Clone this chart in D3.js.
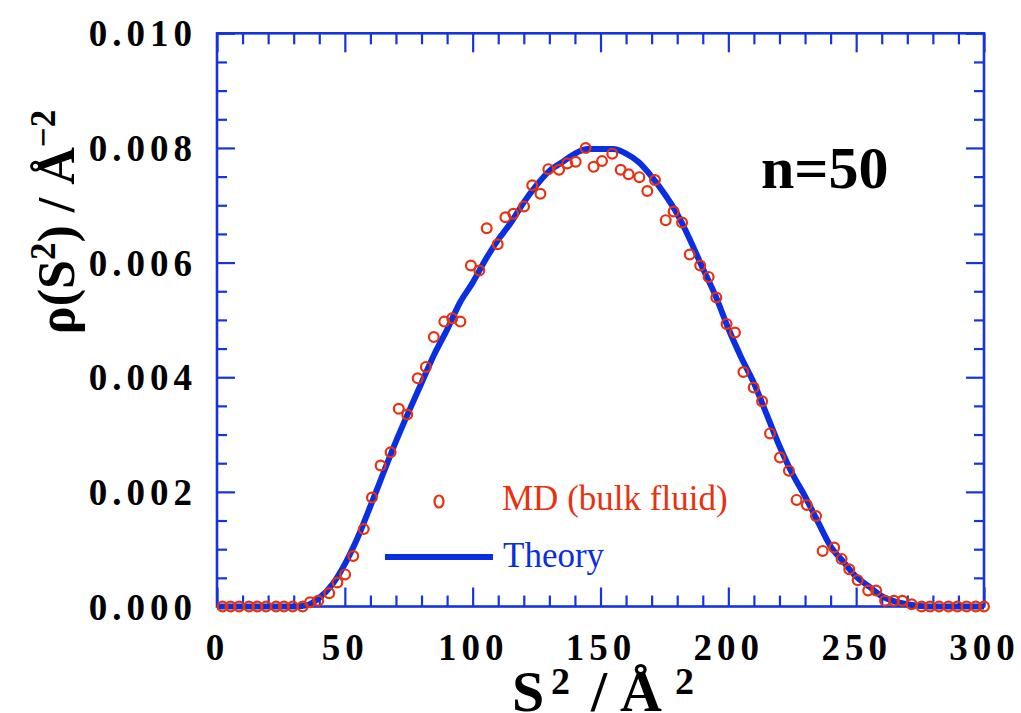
<!DOCTYPE html>
<html><head><meta charset="utf-8">
<script src="https://cdn.jsdelivr.net/npm/d3@7"></script>
<style>body{margin:0;background:#fff} svg{display:block}</style>
</head><body>
<svg id="chart" width="1021" height="713"></svg>
<script>
// ---- data ----
const mdX = [2.2,5.3,8.6,12.5,15.8,19.2,23.1,26.2,29.6,33.5,36.4,39.6,43.9,47.1,50.1,53.3,57.4,60.6,64.0,67.9,71.1,74.4,78.5,81.7,84.8,88.9,92.0,95.2,99.3,102.6,105.5,109.8,112.8,115.9,120.1,123.3,126.5,129.6,133.8,137.0,140.3,144.2,147.3,150.6,154.6,157.9,161.0,165.2,168.3,171.3,175.5,178.6,181.9,184.9,189.0,192.3,195.3,199.3,202.6,205.9,209.9,213.2,216.3,220.2,223.7,226.7,230.7,234.3,236.9,241.4,244.3,247.3,250.6,254.7,257.8,261.3,264.8,268.1,271.7,275.6,278.9,282.4,286.1,289.6,293.2,296.8,300.0];
const mdY = [0,0,0,0,0,0,0,0,0,0,0.000075,0.0001,0.00023,0.00042,0.00056,0.00088,0.00135,0.0019,0.00246,0.00269,0.00345,0.00335,0.00398,0.00418,0.0047,0.00497,0.00503,0.00497,0.00595,0.00586,0.0066,0.00632,0.00679,0.00685,0.00698,0.00735,0.0072,0.00763,0.00762,0.00773,0.00776,0.0080,0.00767,0.00777,0.0079,0.00762,0.00754,0.00749,0.00725,0.00744,0.00674,0.00689,0.0067,0.00614,0.00595,0.00575,0.00539,0.00493,0.00478,0.00409,0.00382,0.00358,0.00302,0.0026,0.00237,0.00186,0.00177,0.00158,0.00097,0.00103,0.00083,0.00065,0.00046,0.00028,0.00028,0.0001,0.0001,0.0001,0.00004,0,0,0,0,0,0,0,0];
const theoryX = [0,30,35,40,45,50,55,60,65,70,75,80,85,90,95,100,105,110,115,120,125,130,135,140,145,150,155,160,165,170,175,180,185,190,195,200,205,210,215,220,225,230,235,240,245,250,255,260,265,270,275,280,300];
const theoryY = [0,0,0.00002,0.00015,0.00038,0.00074,0.0012,0.00175,0.00232,0.00288,0.0034,0.0039,0.0044,0.00483,0.0053,0.00565,0.00605,0.0064,0.0067,0.00705,0.00735,0.0076,0.00775,0.0079,0.00798,0.00798,0.00798,0.0079,0.00775,0.0075,0.0072,0.00685,0.0064,0.0059,0.00542,0.00485,0.00435,0.0039,0.00335,0.0028,0.00232,0.00192,0.00148,0.00105,0.00078,0.00052,0.00035,0.00018,0.00009,0.00004,0.00001,0,0];
const xTickLabels = ["0","50","100","150","200","250","300"];
const yTickLabels = ["0.000","0.002","0.004","0.006","0.008","0.010"];
const seriesNames = ["MD (bulk fluid)","Theory"];
const annotation = "n=50";

// ---- layout ----
const svg = d3.select("#chart");
const L = 217, R = 984, T = 33.3, B = 606.5;
const BLUE = "#1434e0", LINE = "#0a2ee2", RED = "#e8320f";
const FONT = "'Liberation Serif','Times New Roman',serif";

const x = d3.scaleLinear().domain([0, 300]).range([L, R]);
const y = d3.scaleLinear().domain([0, 0.010]).range([B, T]);

const majorX = xTickLabels.map(Number);
const minorX = d3.range(0, 301, 10).filter(v => v % 50 !== 0);
const majorY = yTickLabels.map(Number);
const minorY = d3.range(0, 0.01001, 0.0005).filter(v => Math.abs(v / 0.002 - Math.round(v / 0.002)) > 1e-6);

function tickAxis(axisFn, scale, vals, size, transform) {
  const g = svg.append("g").attr("transform", transform)
    .call(axisFn(scale).tickValues(vals).tickSize(size).tickFormat(""));
  g.select(".domain").remove();
  g.selectAll("line").attr("stroke", BLUE).attr("stroke-width", 2.2);
}
tickAxis(d3.axisBottom, x, majorX, -19, `translate(0,${B})`);
tickAxis(d3.axisBottom, x, minorX, -11, `translate(0,${B})`);
tickAxis(d3.axisTop, x, majorX, -19, `translate(0,${T})`);
tickAxis(d3.axisTop, x, minorX, -11, `translate(0,${T})`);
tickAxis(d3.axisLeft, y, majorY, -18, `translate(${L},0)`);
tickAxis(d3.axisLeft, y, minorY, -10, `translate(${L},0)`);
tickAxis(d3.axisRight, y, majorY, -18, `translate(${R},0)`);
tickAxis(d3.axisRight, y, minorY, -10, `translate(${R},0)`);

svg.append("rect").attr("x", L).attr("y", T).attr("width", R - L).attr("height", B - T)
  .attr("fill", "none").attr("stroke", BLUE).attr("stroke-width", 2.6);

// tick labels
const xl = svg.append("g").attr("transform", `translate(0,${B})`)
  .call(d3.axisBottom(x).tickValues(majorX).tickSize(0).tickPadding(0).tickFormat((d, i) => xTickLabels[i]));
xl.select(".domain").remove();
xl.selectAll("text").attr("y", 53).attr("dy", null)
  .attr("font-family", FONT).attr("font-weight", "bold").attr("font-size", 37)
  .attr("letter-spacing", 5).attr("fill", "#000");

const yl = svg.append("g").attr("transform", `translate(${L},0)`)
  .call(d3.axisLeft(y).tickValues(majorY).tickSize(0).tickPadding(0).tickFormat((d, i) => yTickLabels[i]));
yl.select(".domain").remove();
yl.selectAll("text").attr("x", -20).attr("dy", "0.34em")
  .attr("font-family", FONT).attr("font-weight", "bold").attr("font-size", 37)
  .attr("letter-spacing", 5).attr("fill", "#000");

// theory line
const line = d3.line().x((d, i) => x(theoryX[i])).y((d, i) => y(theoryY[i])).curve(d3.curveMonotoneX);
svg.append("path").datum(theoryY).attr("d", line)
  .attr("fill", "none").attr("stroke", LINE).attr("stroke-width", 6).attr("stroke-linejoin", "round");

// MD points
svg.append("g").selectAll("circle").data(mdY).join("circle")
  .attr("cx", (d, i) => x(mdX[i])).attr("cy", d => y(d)).attr("r", 4.9)
  .attr("fill", "none").attr("stroke", RED).attr("stroke-width", 2.2);

// legend
svg.append("ellipse").attr("cx", 439).attr("cy", 501.5).attr("rx", 4.5).attr("ry", 6)
  .attr("fill", "none").attr("stroke", RED).attr("stroke-width", 2.2);
svg.append("text").attr("x", 502).attr("y", 510).text(seriesNames[0])
  .attr("font-family", FONT).attr("font-size", 35).attr("fill", RED);
svg.append("line").attr("x1", 385).attr("x2", 493).attr("y1", 557).attr("y2", 557)
  .attr("stroke", LINE).attr("stroke-width", 6);
svg.append("text").attr("x", 503).attr("y", 567).text(seriesNames[1])
  .attr("font-family", FONT).attr("font-size", 35).attr("fill", LINE);

// annotation
svg.append("text").attr("x", 761).attr("y", 188).text(annotation)
  .attr("font-family", FONT).attr("font-weight", "bold").attr("font-size", 60).attr("fill", "#000");

// x title
const xt = svg.append("text").attr("y", 711)
  .attr("font-family", FONT).attr("font-weight", "bold").attr("font-size", 58).attr("fill", "#000");
xt.append("tspan").attr("x", 512).attr("y", 711).text("S");
xt.append("tspan").attr("x", 551).attr("y", 694).attr("font-size", 38).text("2");
xt.append("tspan").attr("x", 591).attr("y", 711).text("/");
xt.append("tspan").attr("x", 620).attr("y", 711).text("Å");
xt.append("tspan").attr("x", 675).attr("y", 694).attr("font-size", 38).text("2");

// y title
const yt = svg.append("text").attr("transform", "translate(74,222) rotate(-90)").attr("text-anchor", "middle")
  .attr("font-family", FONT).attr("font-weight", "bold").attr("font-size", 52).attr("fill", "#000");
yt.append("tspan").text("ρ(S");
yt.append("tspan").attr("font-size", 35).attr("dy", -19).text("2");
yt.append("tspan").attr("dy", 19).text(") / Å");
yt.append("tspan").attr("font-size", 35).attr("dy", -19).text("−2");
</script>
</body></html>
